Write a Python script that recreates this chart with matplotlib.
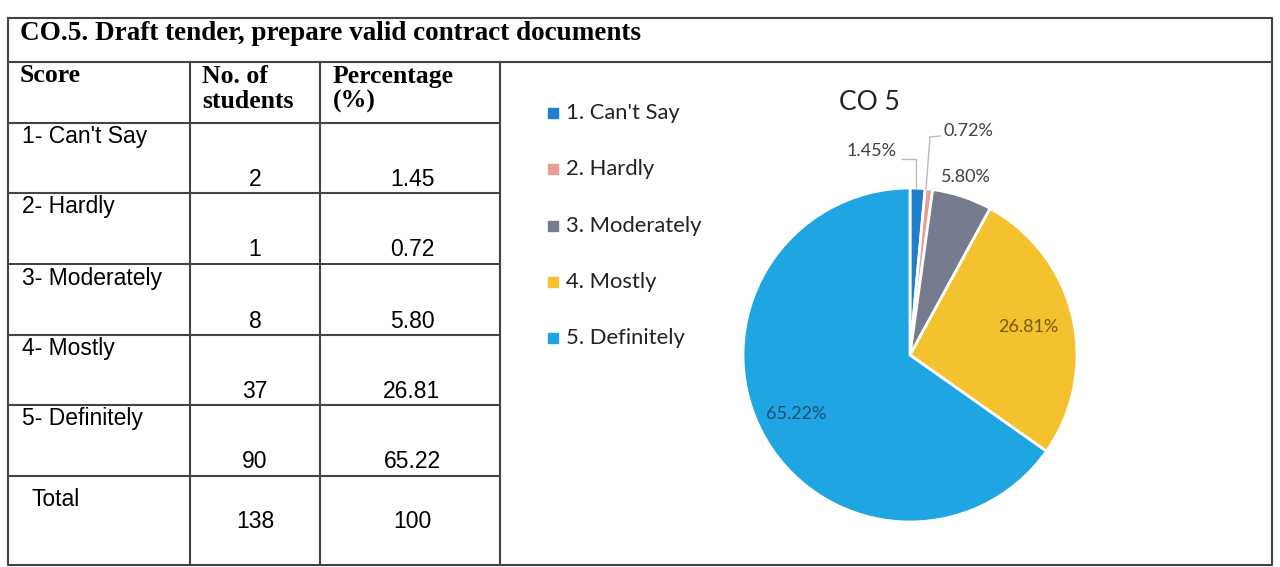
import numpy as np
import matplotlib.pyplot as plt

# table / chart data
scores = ["1- Can't Say", "2- Hardly", "3- Moderately", "4- Mostly", "5- Definitely"]
students = [2, 1, 8, 37, 90]
pct_table = ["1.45", "0.72", "5.80", "26.81", "65.22"]
total_students = 138
total_pct = "100"

legend_labels = ["1. Can't Say", "2. Hardly", "3. Moderately", "4. Mostly", "5. Definitely"]
pie_values = [1.45, 0.72, 5.80, 26.81, 65.22]
pie_colors = ["#1f7fcc", "#e8a094", "#767c8e", "#f4c12f", "#1ea5e2"]

title = "CO.5. Draft tender, prepare valid contract documents"
W, H = 1280, 567

fig = plt.figure(figsize=(W / 100, H / 100), dpi=100)
ax = fig.add_axes([0, 0, 1, 1])
ax.set_xlim(0, W)
ax.set_ylim(H, 0)
ax.axis('off')

lc = '#444444'
lw = 1.5
# outer frame and main separators (pixel layout)
ax.plot([8, 1272, 1272, 8, 8], [18, 18, 565, 565, 18], color=lc, lw=lw)
ax.plot([8, 1272], [62, 62], color=lc, lw=lw)
for x in [190, 320, 500]:
    ax.plot([x, x], [62, 565], color=lc, lw=lw)
row_y = [123, 193, 264, 335, 405, 476]
for y in row_y:
    ax.plot([8, 500], [y, y], color=lc, lw=lw)

serif = 'Liberation Serif'
sans = 'Liberation Sans'
ax.text(20, 33, title, family=serif, weight='bold', fontsize=19.5, va='center', ha='left')
ax.text(20, 76, "Score", family=serif, weight='bold', fontsize=18.5, va='center')
ax.text(202, 89, "No. of\nstudents", family=serif, weight='bold', fontsize=18.5, va='center',
        linespacing=1.1)
ax.text(333, 89, "Percentage\n(%)", family=serif, weight='bold', fontsize=18.5, va='center',
        linespacing=1.1)

fs = 16.5
for i, (s, n, p) in enumerate(zip(scores, students, pct_table)):
    top = row_y[i]
    ax.text(22, top + 14, s, family=sans, fontsize=fs, va='center')
    ax.text(255, top + 57, str(n), family=sans, fontsize=fs, va='center', ha='center')
    ax.text(412, top + 57, p, family=sans, fontsize=fs, va='center', ha='center')
ax.text(32, 500, "Total", family=sans, fontsize=fs, va='center')
ax.text(255, 522, str(total_students), family=sans, fontsize=fs, va='center', ha='center')
ax.text(412, 522, total_pct, family=sans, fontsize=fs, va='center', ha='center')

# legend
for i, lab in enumerate(legend_labels):
    y = 113 + i * 56.3
    ax.plot(553, y, marker='s', ms=6.5, color=pie_colors[i], ls='none')
    ax.text(566, y, lab, family='Lato', fontsize=15.8, va='center', color='#222222')

ax.text(869, 102, "CO 5", family='Lato', fontsize=19, va='center', ha='center', color='#222222')

# pie
cx, cy, r = 910, 355, 167
pax = fig.add_axes([(cx - r) / W, 1 - (cy + r) / H, 2 * r / W, 2 * r / H])
wedges, _ = pax.pie(pie_values, colors=pie_colors, startangle=90, counterclock=False,
                    wedgeprops=dict(edgecolor='white', linewidth=2))
pax.set_xlim(-1, 1)
pax.set_ylim(-1, 1)
pax.set_aspect('equal')

# labels on the big slices
angles = []
cum = 0
for v in pie_values:
    mid = 90 - (cum + v / 2) * 3.6
    angles.append(np.radians(mid))
    cum += v
lab_font = dict(family='Lato', fontsize=13, ha='center', va='center')
a = angles[3]
pax.text(0.73 * np.cos(a), 0.73 * np.sin(a), "26.81%", color='#7a5a10', **lab_font)
a = angles[4]
pax.text(0.77 * np.cos(a), 0.77 * np.sin(a), "65.22%", color='#1b4f7a', **lab_font)

# small-slice labels, placed outside with leader lines
pax.text((966 - cx) / r, (cy - 177) / r, "5.80%", color='#404040', **lab_font)
pax.text((872 - cx) / r, (cy - 151) / r, "1.45%", color='#404040', **lab_font)
lx = (np.array([902, 916, 916]) - cx) / r
ly = (cy - np.array([159, 159, 189])) / r
pax.plot(lx, ly, color='#bbbbbb', lw=1, clip_on=False)
pax.text((968 - cx) / r, (cy - 131) / r, "0.72%", color='#404040', **lab_font)
lx = (np.array([940, 930, 926]) - cx) / r
ly = (cy - np.array([136, 137, 189])) / r
pax.plot(lx, ly, color='#bbbbbb', lw=1, clip_on=False)

fig.savefig('out.png', dpi=100)
